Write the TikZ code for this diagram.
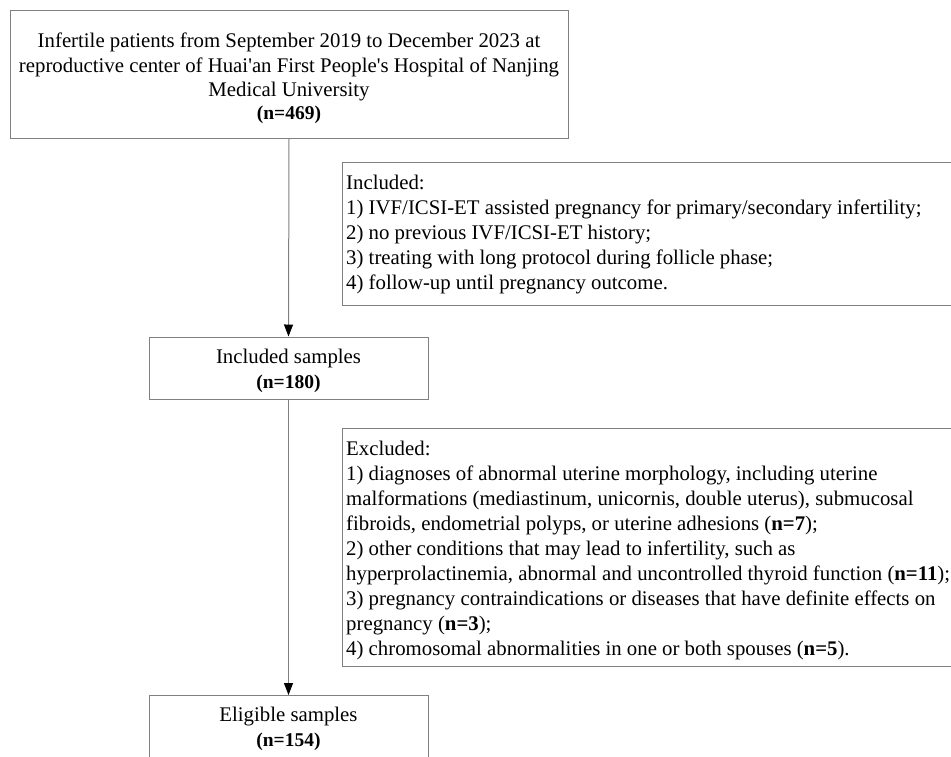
\documentclass[tikz,border=0pt]{standalone}
\usepackage{fontspec}
\setmainfont{Liberation Serif}
\usetikzlibrary{arrows.meta}
\definecolor{boxgray}{RGB}{128,128,128}
\tikzset{
  frame/.style={draw=boxgray, line width=1pt, inner sep=0pt},
  txt/.style={inner sep=0pt, font=\fontsize{20.8}{25}\selectfont},
  ctxt/.style={txt, align=center, anchor=north},
  ltxt/.style={txt, align=left, anchor=north west},
  flow/.style={draw=boxgray, line width=1pt, -{Triangle[color=black, width=9pt, length=12pt]}}
}
\begin{document}
\begin{tikzpicture}[x=1pt,y=-1pt]
\useasboundingbox (0,0) rectangle (951,756);
\clip (0,0) rectangle (951,756);
% boxes
\node[frame, minimum width=558pt, minimum height=128pt] (top) at (289,74) {};
\node[frame, minimum width=660pt, minimum height=143pt, anchor=north west] (inc) at (342,162) {};
\node[frame, minimum width=279pt, minimum height=62pt] (samp) at (288.5,368) {};
\node[frame, minimum width=660pt, minimum height=238pt, anchor=north west] (exc) at (342,428) {};
\node[frame, minimum width=279pt, minimum height=80pt, anchor=north] (elig) at (288.5,695) {};
% texts
\node[ctxt, font=\fontsize{20.8}{24.5}\selectfont] (toptext) at (289,33)
  {Infertile patients from September 2019 to December 2023 at\\
   reproductive center of Huai\textquotesingle an First People\textquotesingle s Hospital of Nanjing\\
   Medical University\\[-2pt]
   {\fontsize{19.5}{22}\selectfont\bfseries (n=469)}};
\node[ltxt] (inctext) at (346,175)
  {Included:\\
   1) IVF/ICSI-ET assisted pregnancy for primary/secondary infertility;\\
   2) no previous IVF/ICSI-ET history;\\
   3) treating with long protocol during follicle phase;\\
   4) follow-up until pregnancy outcome.};
\node[ctxt] (samptext) at (288.5,348.5)
  {Included samples\\ {\fontsize{19.5}{25}\selectfont\bfseries (n=180)}};
\node[ltxt] (exctext) at (346,440.5)
  {Excluded:\\
   1) diagnoses of abnormal uterine morphology, including uterine\\
   malformations (mediastinum, unicornis, double uterus), submucosal\\
   fibroids, endometrial polyps, or uterine adhesions (\textbf{n=7});\\
   2) other conditions that may lead to infertility, such as\\
   hyperprolactinemia, abnormal and uncontrolled thyroid function (\textbf{n=11});\\
   3) pregnancy contraindications or diseases that have definite effects on\\
   pregnancy (\textbf{n=3});\\
   4) chromosomal abnormalities in one or both spouses (\textbf{n=5}).};
\node[ctxt] (eligtext) at (288.5,707)
  {Eligible samples\\ {\fontsize{19.5}{25}\selectfont\bfseries (n=154)}};
% connectors
\draw[flow] (top.south) -- (samp.north);
\draw[flow] (samp.south) -- (elig.north);
\end{tikzpicture}
\end{document}
